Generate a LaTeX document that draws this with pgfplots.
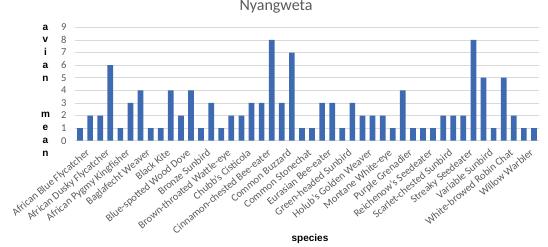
\documentclass[border=0pt]{standalone}
\usepackage{pgfplots}
\pgfplotsset{compat=1.18}
\usepackage{fontspec}
\setmainfont{Carlito}
\newfontfamily\arialfont{Liberation Sans}
\definecolor{barblue}{RGB}{61,106,177}
\definecolor{tickgray}{RGB}{89,89,89}
\definecolor{gridgray}{RGB}{217,217,217}
\begin{document}
\begin{tikzpicture}
\useasboundingbox (0pt,0pt) rectangle (548pt,246pt);
\begin{axis}[
  at={(75pt,105.3pt)}, anchor=south west, scale only axis,
  width=464pt, height=113.4pt,
  xmin=-0.5, xmax=45.5, ymin=0, ymax=9,
  ytick={0,...,9},
  ymajorgrids, grid style={gridgray, line width=0.6pt},
  axis line style={draw=none}, tick style={draw=none},
  ybar, bar width=5.7pt,
  xtick={0,2,...,44},
  xticklabels={African Blue Flycatcher, African Dusky Flycatcher, African Pygmy Kingfisher, Baglafecht Weaver, Black Kite, Blue-spotted Wood Dove, Bronze Sunbird, Brown-throated Wattle-eye, Chubb’s Cisticola, Cinnamon-chested Bee-eater, Common Buzzard, Common Stonechat, Eurasian Bee-eater, Green-headed Sunbird, Holub’s Golden Weaver, Montane White-eye, Purple Grenadier, Reichenow’s Seedeater, Scarlet-chested Sunbird, Streaky Seedeater, Variable Sunbird, White-browed Robin Chat, Willow Warbler},
  xticklabel style={rotate=40, anchor=north east, font=\fontsize{10.5}{12}\selectfont, text=tickgray, inner sep=1pt, yshift=-5pt, xshift=3pt},
  yticklabel style={font=\fontsize{10.5}{12}\selectfont, text=tickgray, xshift=-5pt},
  /pgf/number format/assume math mode=true,
]
\addplot[fill=barblue, draw=none, bar shift=0pt] coordinates {
(0,1) (1,2) (2,2) (3,6) (4,1) (5,3) (6,4) (7,1) (8,1) (9,4)
(10,2) (11,4) (12,1) (13,3) (14,1) (15,2) (16,2) (17,3) (18,3) (19,8)
(20,3) (21,7) (22,1) (23,1) (24,3) (25,3) (26,1) (27,3) (28,2) (29,2)
(30,2) (31,1) (32,4) (33,1) (34,1) (35,1) (36,2) (37,2) (38,2) (39,8)
(40,5) (41,1) (42,5) (43,2) (44,1) (45,1)};
\end{axis}
\node[anchor=base, font=\fontsize{16}{19}\selectfont, text=tickgray] at (276pt,235.5pt) {Nyangweta};
\node[anchor=base, font=\arialfont\bfseries\fontsize{10}{12}\selectfont] at (310pt,5pt) {species};
\foreach \c/\yy in {a/27.3, v/40, i/52.7, a/65.4, n/78.1, m/115, e/127.7, a/140.4, n/153.1}{
  \node[anchor=base, inner sep=0pt, font=\arialfont\bfseries\fontsize{10}{12}\selectfont] at (45.5pt,{(246-\yy-3)*1pt}) {\c};
}
\end{tikzpicture}
\end{document}
